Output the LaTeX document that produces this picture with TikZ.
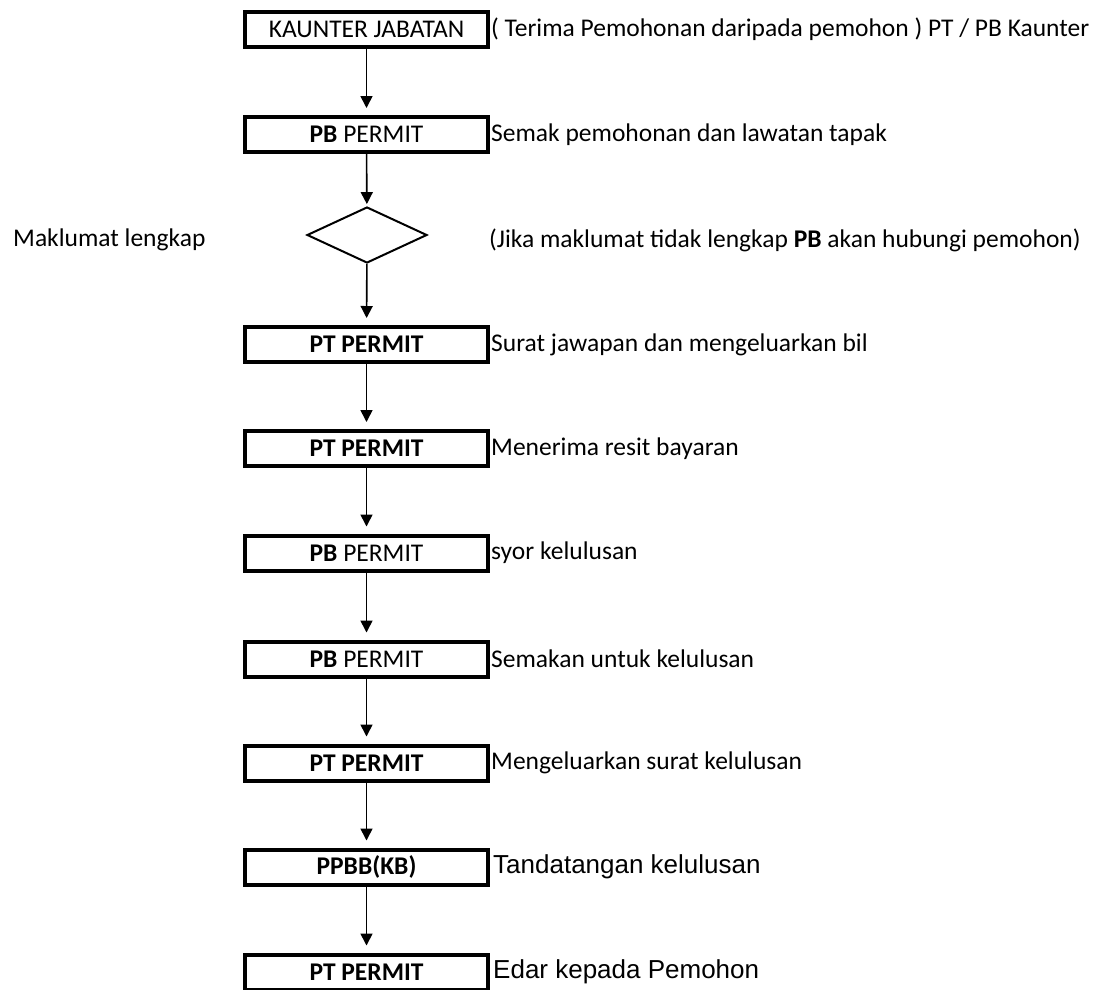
\documentclass[tikz,border=0pt]{standalone}
\usepackage{fontspec}
\setmainfont{Carlito}
\newfontfamily\arialfont{Liberation Sans}
\usetikzlibrary{arrows.meta,shapes.geometric}
\begin{document}
\begin{tikzpicture}[x=1pt,y=-1pt,
  stepbox/.style={draw,line width=4pt,minimum width=243pt,minimum height=35pt,inner sep=0pt,font=\fontsize{25.5}{28}\selectfont},
  lbl/.style={anchor=west,inner sep=0pt,font=\fontsize{25.5}{28}\selectfont},
  flow/.style={line width=1.6pt,-{Triangle[width=12pt,length=12pt]},shorten >=7pt}]
\useasboundingbox (0,0) rectangle (1118,989);
\path[clip] (0,0) rectangle (1118,989);
\node[stepbox] (b1) at (366.5,29.5) {KAUNTER JABATAN};
\node[stepbox] (b2) at (366.5,134.5) {\textbf{PB} PERMIT};
\node[draw,diamond,line width=2pt,minimum width=120pt,minimum height=56pt,inner sep=0pt,aspect=2.14] (d) at (367,235) {};
\node[stepbox] (b3) at (366.5,344.5) {\textbf{PT PERMIT}};
\node[stepbox] (b4) at (366.5,448.5) {\textbf{PT PERMIT}};
\node[stepbox] (b5) at (366.5,553) {\textbf{PB} PERMIT};
\node[stepbox] (b6) at (366.5,659) {\textbf{PB} PERMIT};
\node[stepbox] (b7) at (366.5,763) {\textbf{PT PERMIT}};
\node[stepbox] (b8) at (366.5,867) {\textbf{PPBB(KB)}};
\node[stepbox] (b9) at (366.5,972) {\textbf{PT PERMIT}};
\node[lbl] (l1) at (491,29.5) {( Terima Pemohonan daripada pemohon ) PT / PB Kaunter};
\node[lbl] (l2) at (491,134.5) {Semak pemohonan dan lawatan tapak};
\node[lbl] (ld1) at (13,240) {Maklumat lengkap};
\node[lbl] (ld2) at (489,240) {(Jika maklumat tidak lengkap \textbf{PB} akan hubungi pemohon)};
\node[lbl] (l3) at (491,344.5) {Surat jawapan dan mengeluarkan bil};
\node[lbl] (l4) at (491,448.5) {Menerima resit bayaran};
\node[lbl] (l5) at (491,553) {syor kelulusan};
\node[lbl] (l6) at (491,659) {Semakan untuk kelulusan};
\node[lbl] (l7) at (491,763) {Mengeluarkan surat kelulusan};
\node[lbl,font=\arialfont\fontsize{26}{28}\selectfont] (l8) at (493,867) {Tandatangan kelulusan};
\node[lbl,font=\arialfont\fontsize{26}{28}\selectfont] (l9) at (493,972) {Edar kepada Pemohon};
\draw[flow] (b1) -- (b2);
\draw[flow,shorten >=2pt] (b2) -- (d);
\draw[flow] (d) -- (b3);
\draw[flow] (b3) -- (b4);
\draw[flow] (b4) -- (b5);
\draw[flow] (b5) -- (b6);
\draw[flow] (b6) -- (b7);
\draw[flow] (b7) -- (b8);
\draw[flow] (b8) -- (b9);
\end{tikzpicture}
\end{document}
